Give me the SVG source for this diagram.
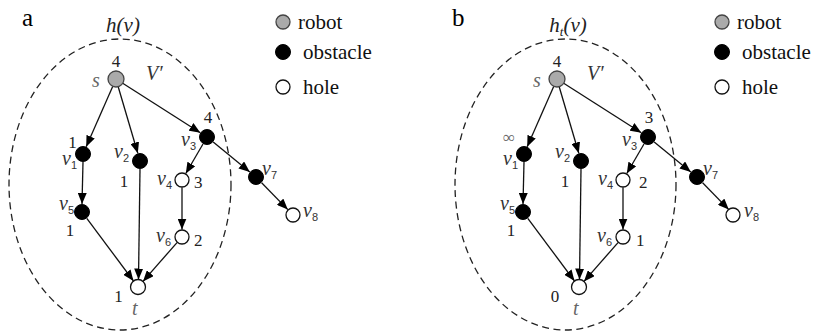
<svg xmlns="http://www.w3.org/2000/svg" width="813" height="336" viewBox="0 0 813 336">
<defs>
<style>
.bg{fill:#fff}
.hull{fill:none;stroke:#222;stroke-width:1.3;stroke-dasharray:7 4.5}
.edge{stroke:#111;stroke-width:1.3;fill:none;marker-end:url(#ah)}
.robot{fill:#aaa;stroke:#444;stroke-width:1.3}
.obs{fill:#000;stroke:#000;stroke-width:1}
.hole{fill:#fff;stroke:#111;stroke-width:1.3}
.num{font-size:17px;fill:#222}
.var{font-style:italic;font-size:20px;fill:#333}
.sub{font-style:normal;font-size:11px}
.tsub{font-style:italic;font-size:13px}
.leg{font-size:21px;fill:#111}
.pl{font-size:25px;fill:#000}
.ttl{font-style:italic;font-size:21px;fill:#222}
.gray{fill:#666}
</style>
<marker id="ah" markerWidth="11" markerHeight="9" refX="11" refY="4.5" orient="auto" markerUnits="userSpaceOnUse">
<path d="M0,0 L11,4.5 L0,9 Z" fill="#000"/>
</marker>
</defs>
<rect class="bg" x="0" y="0" width="813" height="336"/>

<g font-family="Liberation Serif, Times New Roman, serif">
<!-- Panel a -->
<g id="panel-a">
<text class="pl" x="22" y="26">a</text>
<text class="ttl" x="123" y="32" text-anchor="middle">h(v)</text>
<ellipse class="hull" cx="120" cy="184.5" rx="111" ry="145.5"/>
<g id="legend-a">
<circle class="robot" cx="283" cy="22" r="7"/><text class="leg" x="298" y="29">robot</text>
<circle class="obs" cx="283" cy="52" r="7.5"/><text class="leg" x="303" y="59">obstacle</text>
<circle class="hole" cx="283" cy="87" r="7"/><text class="leg" x="303" y="94">hole</text>
</g>
<g id="connectors-a">
<line class="edge" x1="112.8" y1="86.3" x2="86.2" y2="146.7"/>
<line class="edge" x1="118.2" y1="86.7" x2="137.8" y2="153.3"/>
<line class="edge" x1="122.7" y1="83.3" x2="200.3" y2="132.7"/>
<line class="edge" x1="83" y1="162" x2="82" y2="204"/>
<line class="edge" x1="140" y1="169" x2="138.5" y2="279.5"/>
<line class="edge" x1="203" y1="144" x2="185.8" y2="173.5"/>
<line class="edge" x1="182" y1="187.5" x2="182" y2="229.5"/>
<line class="edge" x1="86.8" y1="218.4" x2="133.5" y2="281"/>
<line class="edge" x1="177" y1="242.6" x2="143" y2="281.4"/>
<line class="edge" x1="213.2" y1="142.1" x2="249.8" y2="171.9"/>
<line class="edge" x1="261.6" y1="182.7" x2="287.8" y2="209.6"/>
</g>
<g id="a-s"><circle class="robot" cx="116" cy="79" r="8"/><text class="num" x="116" y="67" text-anchor="middle">4</text><text class="var gray" x="92" y="87">s</text><text class="var" x="146" y="80">V′</text></g>
<g id="a-v1"><circle class="obs" cx="83" cy="154" r="7.5"/><text class="num" x="72.5" y="148" text-anchor="middle">1</text><text class="var" x="62" y="165">v<tspan class="sub" font-family="Liberation Sans, Arial, sans-serif" dy="4">1</tspan></text></g>
<g id="a-v2"><circle class="obs" cx="140" cy="161" r="7.5"/><text class="var" x="114" y="158">v<tspan class="sub" font-family="Liberation Sans, Arial, sans-serif" dy="4">2</tspan></text><text class="num" x="124" y="187" text-anchor="middle">1</text></g>
<g id="a-v3"><circle class="obs" cx="207" cy="137" r="7.5"/><text class="num" x="208" y="123" text-anchor="middle">4</text><text class="var" x="181" y="146">v<tspan class="sub" font-family="Liberation Sans, Arial, sans-serif" dy="4">3</tspan></text></g>
<g id="a-v4"><circle class="hole" cx="182" cy="180" r="7"/><text class="var" x="157" y="185">v<tspan class="sub" font-family="Liberation Sans, Arial, sans-serif" dy="4">4</tspan></text><text class="num" x="194" y="188">3</text></g>
<g id="a-v5"><circle class="obs" cx="82" cy="212" r="7.5"/><text class="var" x="59" y="210">v<tspan class="sub" font-family="Liberation Sans, Arial, sans-serif" dy="4">5</tspan></text><text class="num" x="70" y="236" text-anchor="middle">1</text></g>
<g id="a-v6"><circle class="hole" cx="182" cy="237" r="7"/><text class="var" x="156" y="242">v<tspan class="sub" font-family="Liberation Sans, Arial, sans-serif" dy="4">6</tspan></text><text class="num" x="194" y="246">2</text></g>
<g id="a-t"><circle class="hole" cx="138" cy="287" r="7.5"/><text class="num" x="118.5" y="302" text-anchor="middle">1</text><text class="var gray" x="132" y="315">t</text></g>
<g id="a-v7"><circle class="obs" cx="256" cy="177" r="7.5"/><text class="var" x="262" y="175">v<tspan class="sub" font-family="Liberation Sans, Arial, sans-serif" dy="4">7</tspan></text></g>
<g id="a-v8"><circle class="hole" cx="293" cy="215" r="7"/><text class="var" x="303" y="217">v<tspan class="sub" font-family="Liberation Sans, Arial, sans-serif" dy="4">8</tspan></text></g>
</g>

<!-- Panel b -->
<g id="panel-b" transform="translate(441,0)">
<text class="pl" x="11" y="26">b</text>
<text class="ttl" x="127" y="32" text-anchor="middle">h<tspan class="tsub" dy="4">t</tspan><tspan dy="-4">(v)</tspan></text>
<ellipse class="hull" cx="124.5" cy="184.5" rx="110.5" ry="145.5"/>
<g id="legend-b">
<circle class="robot" cx="281" cy="22" r="7"/><text class="leg" x="296" y="29">robot</text>
<circle class="obs" cx="281" cy="52" r="7.5"/><text class="leg" x="301" y="59">obstacle</text>
<circle class="hole" cx="281" cy="87" r="7"/><text class="leg" x="301" y="94">hole</text>
</g>
<g id="connectors-b">
<line class="edge" x1="112.8" y1="86.3" x2="86.2" y2="146.7"/>
<line class="edge" x1="118.2" y1="86.7" x2="137.8" y2="153.3"/>
<line class="edge" x1="122.7" y1="83.3" x2="200.3" y2="132.7"/>
<line class="edge" x1="83" y1="162" x2="82" y2="204"/>
<line class="edge" x1="140" y1="169" x2="138.5" y2="279.5"/>
<line class="edge" x1="203" y1="144" x2="185.8" y2="173.5"/>
<line class="edge" x1="182" y1="187.5" x2="182" y2="229.5"/>
<line class="edge" x1="86.8" y1="218.4" x2="133.5" y2="281"/>
<line class="edge" x1="177" y1="242.6" x2="143" y2="281.4"/>
<line class="edge" x1="213.2" y1="142.1" x2="249.8" y2="171.9"/>
<line class="edge" x1="261.6" y1="182.7" x2="287.8" y2="209.6"/>
</g>
<g id="b-s"><circle class="robot" cx="116" cy="79" r="8"/><text class="num" x="116" y="67" text-anchor="middle">4</text><text class="var gray" x="92" y="87">s</text><text class="var" x="146" y="80">V′</text></g>
<g id="b-v1"><circle class="obs" cx="83" cy="154" r="7.5"/><text class="num gray" x="68" y="143" text-anchor="middle" font-size="14">∞</text><text class="var" x="62" y="165">v<tspan class="sub" font-family="Liberation Sans, Arial, sans-serif" dy="4">1</tspan></text></g>
<g id="b-v2"><circle class="obs" cx="140" cy="161" r="7.5"/><text class="var" x="114" y="158">v<tspan class="sub" font-family="Liberation Sans, Arial, sans-serif" dy="4">2</tspan></text><text class="num" x="124" y="187" text-anchor="middle">1</text></g>
<g id="b-v3"><circle class="obs" cx="207" cy="137" r="7.5"/><text class="num" x="208" y="123" text-anchor="middle">3</text><text class="var" x="181" y="146">v<tspan class="sub" font-family="Liberation Sans, Arial, sans-serif" dy="4">3</tspan></text></g>
<g id="b-v4"><circle class="hole" cx="182" cy="180" r="7"/><text class="var" x="157" y="185">v<tspan class="sub" font-family="Liberation Sans, Arial, sans-serif" dy="4">4</tspan></text><text class="num" x="198" y="188">2</text></g>
<g id="b-v5"><circle class="obs" cx="82" cy="212" r="7.5"/><text class="var" x="59" y="210">v<tspan class="sub" font-family="Liberation Sans, Arial, sans-serif" dy="4">5</tspan></text><text class="num" x="70" y="236" text-anchor="middle">1</text></g>
<g id="b-v6"><circle class="hole" cx="182" cy="237" r="7"/><text class="var" x="156" y="242">v<tspan class="sub" font-family="Liberation Sans, Arial, sans-serif" dy="4">6</tspan></text><text class="num" x="195" y="246">1</text></g>
<g id="b-t"><circle class="hole" cx="138" cy="287" r="7.5"/><text class="num" x="114" y="302" text-anchor="middle">0</text><text class="var gray" x="132" y="315">t</text></g>
<g id="b-v7"><circle class="obs" cx="256" cy="177" r="7.5"/><text class="var" x="262" y="175">v<tspan class="sub" font-family="Liberation Sans, Arial, sans-serif" dy="4">7</tspan></text></g>
<g id="b-v8"><circle class="hole" cx="292" cy="215" r="7"/><text class="var" x="303" y="217">v<tspan class="sub" font-family="Liberation Sans, Arial, sans-serif" dy="4">8</tspan></text></g>
</g>
</g>
</svg>
